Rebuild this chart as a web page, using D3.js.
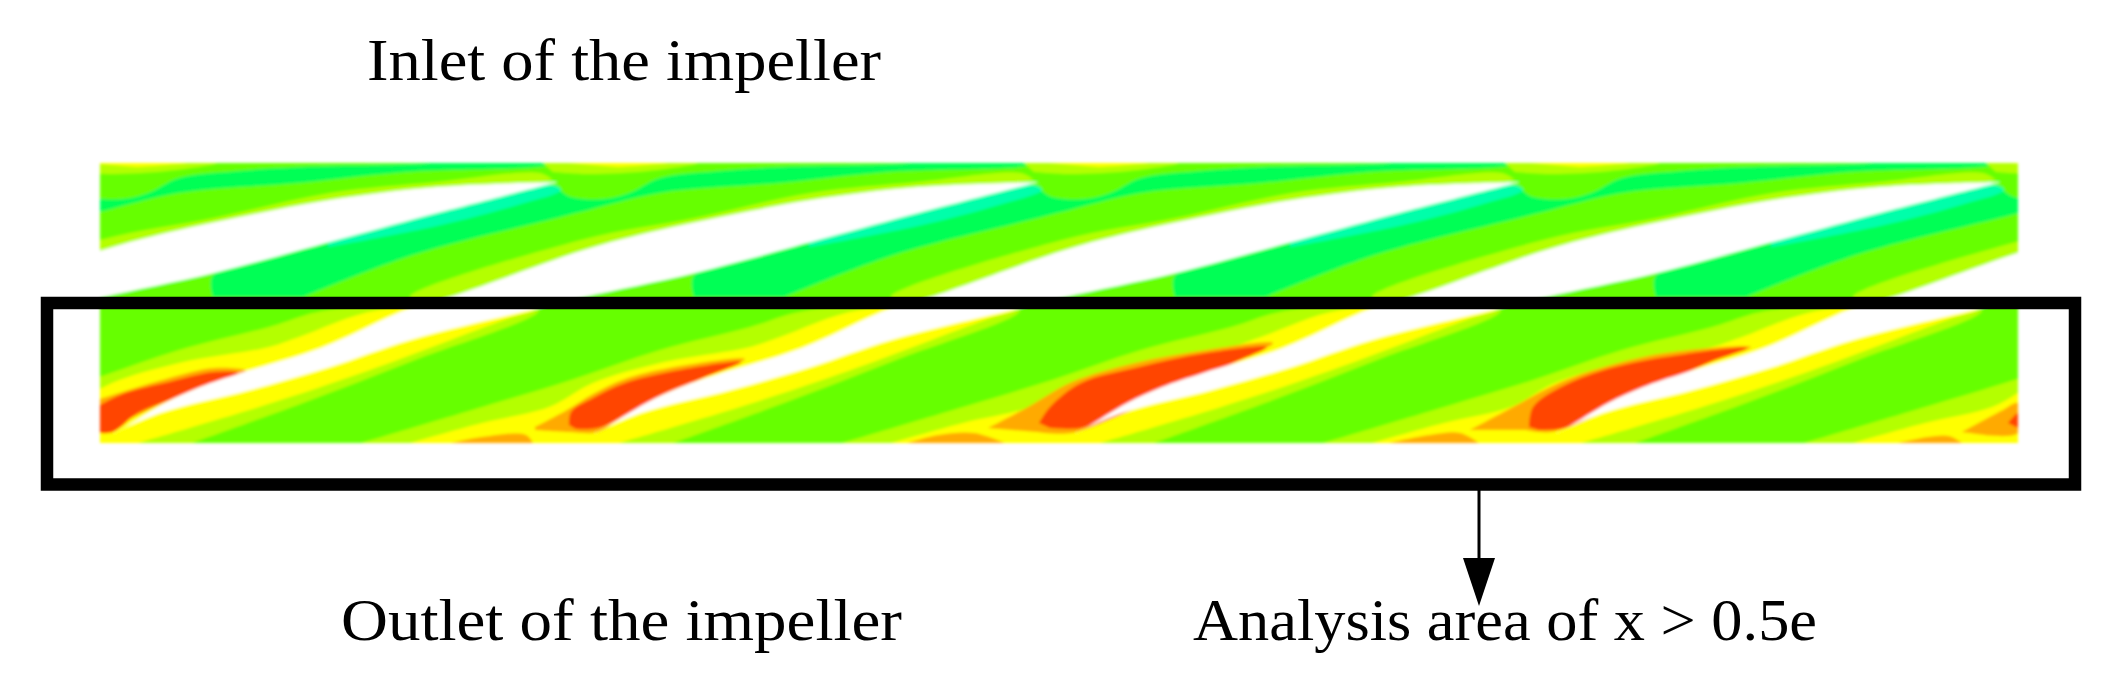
<!DOCTYPE html>
<html>
<head>
<meta charset="utf-8">
<title>Impeller contour</title>
<script src="https://cdnjs.cloudflare.com/ajax/libs/d3/7.8.5/d3.min.js"></script>
<style>
  html, body { margin: 0; padding: 0; background: #fff; }
  svg { display: block; }
  text { font-family: "Liberation Serif", serif; font-size: 60px; fill: #000; }
</style>
</head>
<body>
<div id="chart"></div>
<script>
// circumferential position (s) and axial position (z) of the unrolled passage
const domainS = [0, 1918];
const domainZ = [0, 280];

// blade trailing tips along s; every band below is given relative to one of these
const bladeTips = [-23, 458, 939, 1420, 1901, 2382, 2863];

const bladeUpper = [[0, 19], [-121, 24], [-228, 37], [-308, 52], [-400, 72], [-458, 88], [-589, 134], [-631, 146], [-718, 185], [-798, 210], [-839, 224], [-874, 240], [-914, 264], [-926, 270]];
const bladeLower = [[-879, 250], [-789, 227], [-709, 204], [-629, 177], [-508, 147], [-455, 134], [-344, 110], [-210, 74], [-121, 50], [0, 19]];

// inlet half
const inletEdgeBand = [[-5, 17], [-18, 10], [-121, 19], [-228, 30], [-344, 55], [-458, 77], [-629, 134], [-500, 134], [-200, 52]];
const inletLowBand = [[-345, 134], [-345, 112], [-200, 60], [-5, 25], [13, 34], [45, 36], [71, 30], [102, 15], [160, 8], [222, 4], [300, 2], [470, 0], [470, 2], [330, 9], [222, 20], [102, 30], [23, 49], [-9, 57], [-145, 92], [-255, 134]];
const inletLowestBand = [[-230, 84], [-121, 63], [-40, 42], [3, 27], [-5, 22], [-121, 40], [-230, 75]];
const inletTopStrip = [[-15, 0], [140, 0], [90, 8], [30, 11], [-5, 9]];
const inletTopYellow = [[10, 0], [110, 0], [60, 4]];

// outlet half
const outletHighBand = [[-1159, 280], [-1038, 244], [-949, 217], [-860, 187], [-770, 164], [-710, 147], [-500, 147], [-624, 197], [-736, 240], [-847, 280]];
const outletHigherBand = [[-1110, 280], [-1038, 260], [-971, 244], [-927, 220], [-860, 200], [-770, 184], [-740, 174], [-660, 147], [-505, 147], [-535, 157], [-669, 207], [-780, 244], [-901, 280]];

// the high-value pockets differ per passage, so these are absolute
const orangePockets = [
  [[0, 236], [69, 215], [114, 205], [146, 208], [100, 224], [0, 270]],
  [[435, 264], [467, 247], [493, 231], [525, 216], [569, 205], [645, 196], [605, 214], [529, 250], [498, 269], [469, 269], [435, 267]],
  [[888, 265], [928, 244], [972, 219], [1035, 200], [1106, 187], [1173, 180], [1133, 200], [1031, 247], [972, 270], [937, 269]],
  [[1370, 267], [1413, 244], [1461, 219], [1504, 204], [1565, 190], [1651, 184], [1608, 200], [1513, 244], [1452, 269], [1426, 267]],
  [[1862, 269], [1901, 248], [1918, 240], [1918, 270], [1870, 270]],
  [[351, 280], [382, 274], [426, 272], [433, 280]],
  [[807, 280], [839, 272], [874, 270], [905, 280]],
  [[1289, 280], [1330, 272], [1360, 270], [1379, 280]],
  [[1798, 280], [1828, 274], [1849, 273], [1862, 280]]
];
const redPockets = [
  [[0, 270], [13, 269], [38, 250], [69, 237], [100, 224], [138, 210], [114, 209], [69, 219], [25, 230], [0, 242]],
  [[469, 262], [471, 249], [493, 235], [525, 220], [569, 209], [641, 199], [605, 214], [565, 230], [529, 250], [498, 265], [476, 266]],
  [[939, 260], [950, 244], [981, 220], [1039, 204], [1106, 190], [1167, 184], [1133, 200], [1084, 220], [1031, 247], [981, 265], [950, 265]],
  [[1429, 264], [1433, 244], [1461, 224], [1504, 207], [1565, 194], [1647, 185], [1608, 200], [1556, 224], [1513, 244], [1465, 265], [1439, 267]],
  [[1908, 260], [1918, 250], [1918, 265]]
];

const colors = {
  base: '#66ff00',
  low: '#00ff55',
  lowest: '#00ffaa',
  high: '#b4ff00',
  higher: '#ffff00',
  orange: '#ffaa00',
  red: '#ff4400'
};

const labels = [
  { text: 'Inlet of the impeller', x: 367, y: 80, len: 514 },
  { text: 'Outlet of the impeller', x: 341, y: 640, len: 561 },
  { text: 'Analysis area of x > 0.5e', x: 1193, y: 640, len: 624 }
];

const width = 2117, height = 695;

const x = d3.scaleLinear().domain(domainS).range([100, 2018]);
const y = d3.scaleLinear().domain(domainZ).range([163, 443]);

const svg = d3.select('#chart').append('svg')
    .attr('width', width)
    .attr('height', height);

const defs = svg.append('defs');
defs.append('clipPath').attr('id', 'passage')
  .append('rect')
    .attr('x', x(domainS[0]))
    .attr('y', y(domainZ[0]))
    .attr('width', x(domainS[1]) - x(domainS[0]))
    .attr('height', y(domainZ[1]) - y(domainZ[0]));
defs.append('filter').attr('id', 'soft')
    .attr('x', '-2%').attr('y', '-5%').attr('width', '104%').attr('height', '110%')
  .append('feGaussianBlur').attr('stdDeviation', 1.7);

const line = d3.line()
    .x(d => x(d[0]))
    .y(d => y(d[1]))
    .curve(d3.curveCatmullRom.alpha(0.5));

// closes the smooth outline with a straight edge, keeps the corner at the start
const shape = pts => line(pts) + 'Z';
const shifted = (pts, tip) => pts.map(d => [d[0] + tip, d[1]]);

const outer = svg.append('g').attr('filter', 'url(#soft)');
const field = outer.append('g').attr('clip-path', 'url(#passage)');

field.append('rect')
    .attr('x', x(domainS[0]))
    .attr('y', y(domainZ[0]))
    .attr('width', x(domainS[1]) - x(domainS[0]))
    .attr('height', y(domainZ[1]) - y(domainZ[0]))
    .attr('fill', colors.base);

function perBlade(pts, color) {
  field.append('g').selectAll('path')
    .data(bladeTips)
    .join('path')
      .attr('d', tip => shape(shifted(pts, tip)))
      .attr('fill', color);
}

perBlade(inletEdgeBand, colors.high);
perBlade(inletLowBand, colors.low);
perBlade(inletLowestBand, colors.lowest);
perBlade(inletTopStrip, colors.high);
perBlade(inletTopYellow, colors.higher);
perBlade(outletHighBand, colors.high);
perBlade(outletHigherBand, colors.higher);

field.append('g').selectAll('path')
  .data(orangePockets)
  .join('path')
    .attr('d', shape)
    .attr('fill', colors.orange);

field.append('g').selectAll('path')
  .data(redPockets)
  .join('path')
    .attr('d', shape)
    .attr('fill', colors.red);

// blades are blanked out of the contour
field.append('g').selectAll('path')
  .data(bladeTips)
  .join('path')
    .attr('d', tip => shape(shifted(bladeUpper.concat(bladeLower), tip)))
    .attr('fill', '#fff');

// analysis box
svg.append('rect')
    .attr('x', 47)
    .attr('y', 303)
    .attr('width', 2028)
    .attr('height', 181.5)
    .attr('fill', 'none')
    .attr('stroke', '#000')
    .attr('stroke-width', 12.5);

// arrow from the box down to the label
svg.append('line')
    .attr('x1', 1479).attr('y1', 490)
    .attr('x2', 1479).attr('y2', 560)
    .attr('stroke', '#000')
    .attr('stroke-width', 3);
svg.append('path')
    .attr('d', 'M1463,558L1495,558L1479,606Z')
    .attr('fill', '#000');

svg.selectAll('text.label')
  .data(labels)
  .join('text')
    .attr('class', 'label')
    .attr('x', d => d.x)
    .attr('y', d => d.y)
    .attr('textLength', d => d.len)
    .attr('lengthAdjust', 'spacingAndGlyphs')
    .text(d => d.text);
</script>
</body>
</html>
